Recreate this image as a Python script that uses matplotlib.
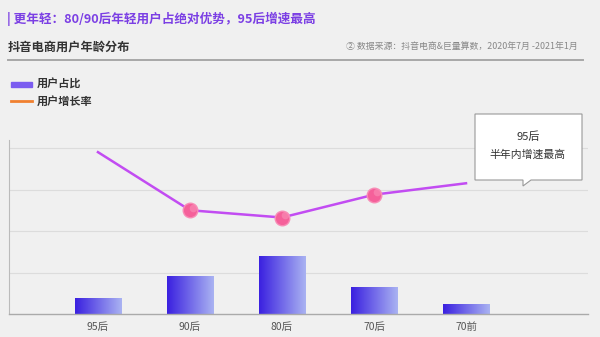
import numpy as np
import matplotlib
matplotlib.use("Agg")
import matplotlib.pyplot as plt
from matplotlib.patches import Polygon, Rectangle
from matplotlib.lines import Line2D
from matplotlib.colors import LinearSegmentedColormap

plt.rcParams['font.family'] = ['Noto Sans CJK SC', 'DejaVu Sans']

# data
categories = ['95后', '90后', '80后', '70后', '70前']
user_share = [3.9, 9.2, 13.9, 6.6, 2.4]          # bar, %
growth_rate = [78, 50, 46.5, 57.5, 63]           # line, %
marker_idx = [1, 2, 3]

title = '| 更年轻：80/90后年轻用户占绝对优势，95后增速最高'
subtitle = '抖音电商用户年龄分布'
source = '② 数据来源：抖音电商&巨量算数，2020年7月 -2021年1月'
legend_labels = ['用户占比', '用户增长率']
callout_lines = ['95后', '半年内增速最高']

BG = '#f0f0f0'
W, H = 600, 337


def fx(px):
    return px / W


def fy(py):
    return 1 - py / H


fig = plt.figure(figsize=(6, 3.37), dpi=100, facecolor=BG)

# header
fig.text(fx(7), fy(19), title, color='#7b3fe4', fontsize=9.1, fontweight='bold', va='center', ha='left')
fig.text(fx(8), fy(47), subtitle, color='#333333', fontsize=8.8, fontweight='bold', va='center', ha='left')
fig.text(fx(578), fy(46), source, color='#888888', fontsize=6.4, va='center', ha='right')
fig.add_artist(Line2D([fx(8), fx(583)], [fy(60), fy(60)], color='#a8a8a8', lw=1.4, transform=fig.transFigure))

# legend
fig.add_artist(Rectangle((fx(11), fy(87)), fx(21), 5 / H, color='#7b5cf0', transform=fig.transFigure))
fig.text(fx(37), fy(84), legend_labels[0], color='#333333', fontsize=8, fontweight='bold', va='center')
fig.add_artist(Line2D([fx(11), fx(32)], [fy(101), fy(101)], color='#f08030', lw=2, transform=fig.transFigure))
fig.text(fx(37), fy(101), legend_labels[1], color='#333333', fontsize=8, fontweight='bold', va='center')

# main axes
ax = fig.add_axes([fx(9), fy(314), fx(588) - fx(9), (314 - 140) / H])
ax.set_facecolor(BG)
x = np.arange(len(categories))
bars = ax.bar(x, user_share, width=0.51, color='none', zorder=2)

cmap = LinearSegmentedColormap.from_list('bar', ['#3a20e0', '#aab3f2'])
grad = np.linspace(0, 1, 256).reshape(1, -1)
for b in bars:
    x0, y0 = b.get_x(), b.get_y()
    im = ax.imshow(grad, extent=[x0, x0 + b.get_width(), y0, y0 + b.get_height()],
                   cmap=cmap, aspect='auto', zorder=2)
    im.set_clip_path(b)

ymax = 174 / 41.5 * 10
ax.set_xlim(-0.967, 5.326)
ax.set_ylim(0, ymax)
ax.set_yticks([10, 20, 30, 40])
ax.yaxis.grid(True, color='#dcdcdc', lw=0.8)
ax.set_axisbelow(True)
ax.set_xticks(x)
ax.set_xticklabels(categories, fontsize=7.5, color='#555555')
for s in ['top', 'right']:
    ax.spines[s].set_visible(False)
ax.spines['left'].set_color('#bbbbbb')
ax.spines['bottom'].set_color('#aaaaaa')
ax.spines['bottom'].set_linewidth(1.0)

ax2 = ax.twinx()
ax2.set_ylim(0, ymax * 2)
ax2.axis('off')
ax2.plot(x, growth_rate, color='#c24cf2', lw=1.8, zorder=3)
ax2.scatter(x[marker_idx], np.array(growth_rate)[marker_idx], s=110, color='#f5609a',
            edgecolor='#f88cb6', lw=1.0, zorder=4)
ax2.scatter(x[marker_idx] + 0.03, np.array(growth_rate)[marker_idx] + 1.2, s=30, color='#f990b8',
            lw=0, alpha=0.6, zorder=5)

# twinx turns the left ticks back on, so hide them afterwards
ax.tick_params(axis='y', which='both', left=False, right=False, labelleft=False)
ax.tick_params(axis='x', length=0, pad=6)

# callout box
pts = [(475, 114), (582, 114), (582, 180), (531, 180), (523, 186), (523, 180), (475, 180)]
fig.add_artist(Polygon([(fx(a), fy(b)) for a, b in pts], closed=True, facecolor='white',
                       edgecolor='#999999', lw=0.8, transform=fig.transFigure))
fig.text(fx(528), fy(137), callout_lines[0], fontsize=8, color='#333333', ha='center', va='center')
fig.text(fx(528), fy(155), callout_lines[1], fontsize=7.8, color='#333333', ha='center', va='center')

fig.savefig('out.png', dpi=100, facecolor=BG)
